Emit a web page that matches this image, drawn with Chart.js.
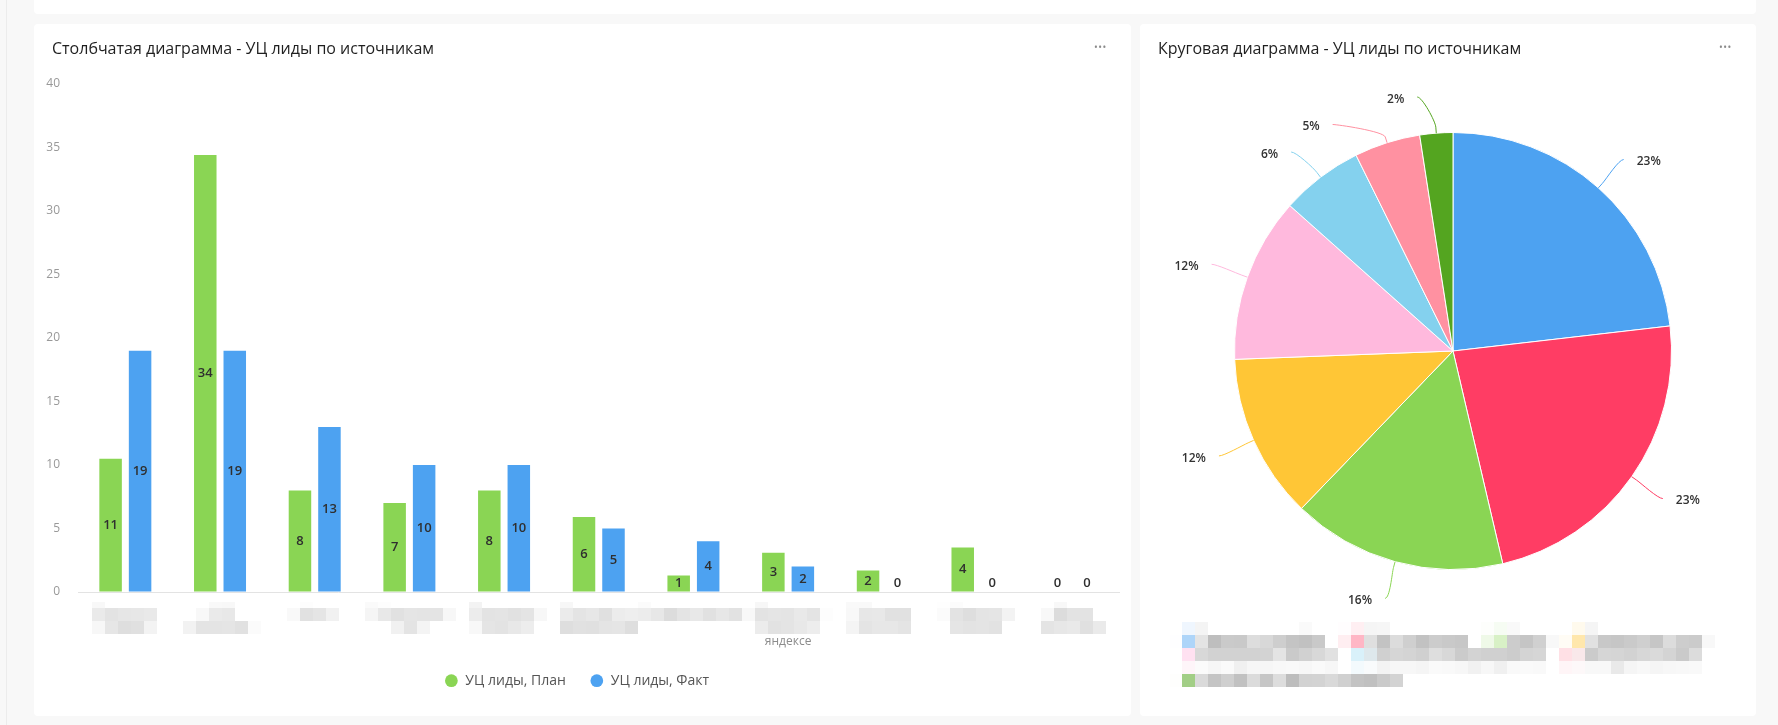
<!DOCTYPE html>
<html lang="ru">
<head>
<meta charset="utf-8">
<title>УЦ лиды по источникам</title>
<script src="https://cdn.jsdelivr.net/npm/chart.js@4.4.1/dist/chart.umd.min.js"></script>
<style>
  html, body { margin: 0; padding: 0; }
  body { width: 1778px; height: 725px; background: #f8f8f8; position: relative; overflow: hidden;
         font-family: "Open Sans", "Noto Sans", sans-serif; }
  .edge { position: absolute; left: 6px; top: 0; width: 1px; height: 725px; background: #ececec; }
  .card { position: absolute; background: #fff; border-radius: 4px; }
  .card canvas { position: absolute; left: 0; top: 0; }
  .title { position: absolute; font-size: 16px; line-height: 20px; color: #1f1f1f; white-space: nowrap; }
  .menu { position: absolute; font-size: 10px; line-height: 10px; color: #8a8a8a; letter-spacing: 0.5px; }
</style>
</head>
<body>
<div class="edge"></div>
<div class="card" style="left:34px;top:0;width:1722px;height:14px;border-radius:0 0 4px 4px"></div>

<div class="card" style="left:34px;top:24px;width:1097px;height:692px">
  <canvas id="barChart" width="1097" height="692" style="width:1097px;height:692px"></canvas>
  <div class="title" id="barTitle" style="left:18px;top:14px"></div>
  <div class="menu" style="left:1060px;top:18px">•••</div>
</div>

<div class="card" style="left:1140px;top:24px;width:616px;height:692px">
  <canvas id="pieChart" width="616" height="692" style="width:616px;height:692px"></canvas>
  <div class="title" id="pieTitle" style="left:18px;top:14px"></div>
  <div class="menu" style="left:579px;top:18px">•••</div>
</div>

<script>
// ---------- data ----------
const barTitle = "Столбчатая диаграмма - УЦ лиды по источникам";
const pieTitle = "Круговая диаграмма - УЦ лиды по источникам";
const categoryLines = [
  ["Звонки на", "телефон"],
  ["Сайт", "компании"],
  ["Авито"],
  ["Социальные", "сети"],
  ["Повторные", "клиенты"],
  ["Выставки и", "мероприятия"],
  ["Холодные звонки"],
  ["Реклама на", "картах и в", "яндексе"],
  ["Почтовая", "рассылка"],
  ["Наружная", "реклама"],
  ["Другие", "источники"]
];
const planValues = [10.5, 34.4, 8, 7, 8, 5.9, 1.3, 3.1, 1.7, 3.5, 0];
const factValues = [19, 19, 13, 10, 10, 5, 4, 2, 0, 0, 0];
const seriesNames = ["УЦ лиды, План", "УЦ лиды, Факт"];
const seriesColors = ["#8AD554", "#4DA2F1"];
const yTickMin = 0, yTickMax = 40, yTickStep = 5;
const pieColors = ["#4DA2F1", "#FF3D64", "#8AD554", "#FFC636", "#FFB9DD", "#84D1EE", "#FF91A1", "#54A520"];

document.getElementById('barTitle').textContent = barTitle;
document.getElementById('pieTitle').textContent = pieTitle;

Chart.defaults.font.family = '"Open Sans", "Noto Sans", sans-serif';

// ---------- mosaic helper (redacted labels) ----------
function drawMosaic(ctx, paint, rx, ry, rw, rh, gx, gy, B) {
  const W = ctx.canvas.width, H = ctx.canvas.height;
  const off = document.createElement('canvas');
  off.width = W; off.height = H;
  const o = off.getContext('2d');
  o.fillStyle = '#fff'; o.fillRect(0, 0, W, H);
  paint(o);
  const d = o.getImageData(0, 0, W, H).data;
  const bx0 = gx - Math.ceil((gx - rx) / B) * B;
  const by0 = gy - Math.ceil((gy - ry) / B) * B;
  for (let by = by0; by < ry + rh; by += B) {
    for (let bx = bx0; bx < rx + rw; bx += B) {
      const x1 = Math.max(0, Math.round(Math.max(bx, rx))), x2 = Math.min(W, Math.round(Math.min(bx + B, rx + rw)));
      const y1 = Math.max(0, Math.round(Math.max(by, ry))), y2 = Math.min(H, Math.round(Math.min(by + B, ry + rh)));
      if (x2 <= x1 || y2 <= y1) continue;
      let r = 0, g = 0, b = 0, n = 0;
      for (let y = y1; y < y2; y++) {
        for (let x = x1; x < x2; x++) {
          const k = (y * W + x) * 4;
          r += d[k]; g += d[k + 1]; b += d[k + 2]; n++;
        }
      }
      r /= n; g /= n; b /= n;
      if (r > 254 && g > 254 && b > 254) continue;
      ctx.fillStyle = 'rgb(' + Math.round(r) + ',' + Math.round(g) + ',' + Math.round(b) + ')';
      ctx.fillRect(x1, y1, x2 - x1, y2 - y1);
    }
  }
}

// ---------- bar chart ----------
const barLabelsPlugin = {
  id: 'barLabels',
  afterDatasetsDraw(chart) {
    const ctx = chart.ctx;
    ctx.save();
    ctx.font = '600 13px "Open Sans"';
    ctx.fillStyle = '#2f2f2f';
    ctx.textAlign = 'center';
    ctx.textBaseline = 'middle';
    chart.data.datasets.forEach((ds, di) => {
      const meta = chart.getDatasetMeta(di);
      meta.data.forEach((el, i) => {
        const v = ds.data[i];
        const y = v > 0 ? (el.y + el.base) / 2 : el.base - 9;
        ctx.fillText(String(Math.round(v)), el.x, y);
      });
    });
    ctx.restore();
  },
  afterDraw(chart) {
    const ctx = chart.ctx;
    const xs = chart.scales.x;
    const bottom = chart.chartArea.bottom;
    const L0 = bottom + 21;
    drawMosaic(ctx, (o) => {
      o.font = '12px "Open Sans"';
      o.fillStyle = '#6e6e6e';
      o.textAlign = 'center';
      o.textBaseline = 'middle';
      categoryLines.forEach((lines, i) => {
        const x = xs.getPixelForValue(i);
        lines.slice(0, 2).forEach((t, j) => o.fillText(t, x, L0 + j * 14));
      });
    }, 0, bottom + 10, ctx.canvas.width, 33, 57.8, bottom + 16.3, 13);
    ctx.save();
    ctx.font = '12px "Open Sans"';
    ctx.fillStyle = '#8c8c8c';
    ctx.textAlign = 'center';
    ctx.textBaseline = 'middle';
    categoryLines.forEach((lines, i) => {
      if (lines.length > 2) {
        const x = xs.getPixelForValue(i);
        lines.slice(2).forEach((t, j) => ctx.fillText(t, x, L0 + 29 + j * 14));
      }
    });
    ctx.restore();
  }
};

new Chart(document.getElementById('barChart'), {
  type: 'bar',
  data: {
    labels: categoryLines.map(l => l.join(' ')),
    datasets: [
      { label: seriesNames[0], data: planValues, backgroundColor: seriesColors[0], borderWidth: 0,
        barPercentage: 0.763, categoryPercentage: 0.623 },
      { label: seriesNames[1], data: factValues, backgroundColor: seriesColors[1], borderWidth: 0,
        barPercentage: 0.763, categoryPercentage: 0.623 }
    ]
  },
  options: {
    responsive: false,
    devicePixelRatio: 1,
    animation: false,
    layout: { padding: { top: 60, left: 0, right: 11.5, bottom: 18.3 } },
    plugins: {
      tooltip: { enabled: false },
      legend: {
        position: 'bottom',
        labels: {
          usePointStyle: true, pointStyle: 'circle', boxHeight: 9, boxWidth: 14,
          padding: 24, color: '#555', font: { size: 14 }
        }
      }
    },
    scales: {
      x: {
        grid: { display: true, color: 'rgba(0,0,0,0)', drawTicks: false },
        border: { display: true, color: '#e3e3e3', width: 1 },
        ticks: { display: false },
        afterFit(s) { s.height = 57.7; }
      },
      y: {
        min: yTickMin, max: yTickMax,
        grid: { display: true, color: 'rgba(0,0,0,0)', drawTicks: false },
        border: { display: false },
        ticks: { stepSize: yTickStep, padding: 18, color: '#999', font: { size: 12 } },
        afterFit(s) { s.width = 44; }
      }
    }
  },
  plugins: [barLabelsPlugin]
});

// ---------- pie chart ----------
const pieIdx = factValues.map((v, i) => i).filter(i => factValues[i] > 0);
const pieLabels = pieIdx.map(i => categoryLines[i].join(' '));
const pieValues = pieIdx.map(i => factValues[i]);

const pieExtrasPlugin = {
  id: 'pieExtras',
  afterDraw(chart) {
    const ctx = chart.ctx;
    const meta = chart.getDatasetMeta(0);
    const arcs = meta.data;
    const data = chart.data.datasets[0].data;
    const total = data.reduce((a, b) => a + b, 0);
    const cx = arcs[0].x, cy = arcs[0].y, r = arcs[0].outerRadius;
    const R = r + 38;
    const items = arcs.map((a, i) => {
      const mid = (a.startAngle + a.endAngle) / 2;
      return { i, mid, right: Math.cos(mid) >= 0, y: cy + R * Math.sin(mid) };
    });
    [true, false].forEach(side => {
      const list = items.filter(it => it.right === side).sort((a, b) => a.y - b.y);
      let prev = -Infinity;
      list.forEach(it => {
        it.y = Math.max(it.y, prev + 27.5, chart.chartArea.top - 35);
        prev = it.y;
      });
    });
    ctx.save();
    items.forEach(it => {
      const dy = it.y - cy;
      const ax = cx + (it.right ? 1 : -1) * Math.sqrt(Math.max(0, R * R - dy * dy));
      const ay = it.y;
      const p = (rad) => ({ x: cx + rad * Math.cos(it.mid), y: cy + rad * Math.sin(it.mid) });
      const c2 = p(r + 12), b = p(r + 6), s = p(r);
      ctx.beginPath();
      ctx.moveTo(ax, ay);
      ctx.bezierCurveTo(ax + (it.right ? -5 : 5), ay, c2.x, c2.y, b.x, b.y);
      ctx.lineTo(s.x, s.y);
      ctx.strokeStyle = pieColors[it.i % pieColors.length];
      ctx.lineWidth = 1;
      ctx.stroke();
      ctx.font = '600 12px "Open Sans"';
      ctx.fillStyle = '#333';
      ctx.textAlign = it.right ? 'left' : 'right';
      ctx.textBaseline = 'middle';
      const pct = Math.round(data[it.i] / total * 100) + '%';
      ctx.fillText(pct, ax + (it.right ? 13 : -13), ay + 2.5);
    });
    ctx.restore();

    // redacted legend
    const left = 41, rightLimit = 582, rowYs = [614, 634.5, 655, 675.5];
    drawMosaic(ctx, (o) => {
      o.font = '600 13px "Open Sans"';
      o.textBaseline = 'middle';
      o.textAlign = 'left';
      let x = left, row = 0;
      chart.data.labels.forEach((lab, i) => {
        const w = 18 + o.measureText(lab).width;
        if (x > left && x + w > rightLimit) { row++; x = left; }
        const y = rowYs[row];
        o.fillStyle = pieColors[i % pieColors.length];
        o.beginPath(); o.arc(x + 6, y, 5.5, 0, Math.PI * 2); o.fill();
        o.fillStyle = '#1a1a1a';
        o.fillText(lab, x + 18, y);
        x += w + 22;
      });
    }, 30, 598, 560, 65, 41.5, 598.3, 13);
  }
};

new Chart(document.getElementById('pieChart'), {
  type: 'pie',
  data: {
    labels: pieLabels,
    datasets: [{ data: pieValues, backgroundColor: pieColors, borderColor: '#fff', borderWidth: 1 }]
  },
  options: {
    responsive: false,
    devicePixelRatio: 1,
    animation: false,
    layout: { padding: { left: 94, right: 84, top: 108, bottom: 146 } },
    plugins: { legend: { display: false }, tooltip: { enabled: false } }
  },
  plugins: [pieExtrasPlugin]
});
</script>
</body>
</html>
